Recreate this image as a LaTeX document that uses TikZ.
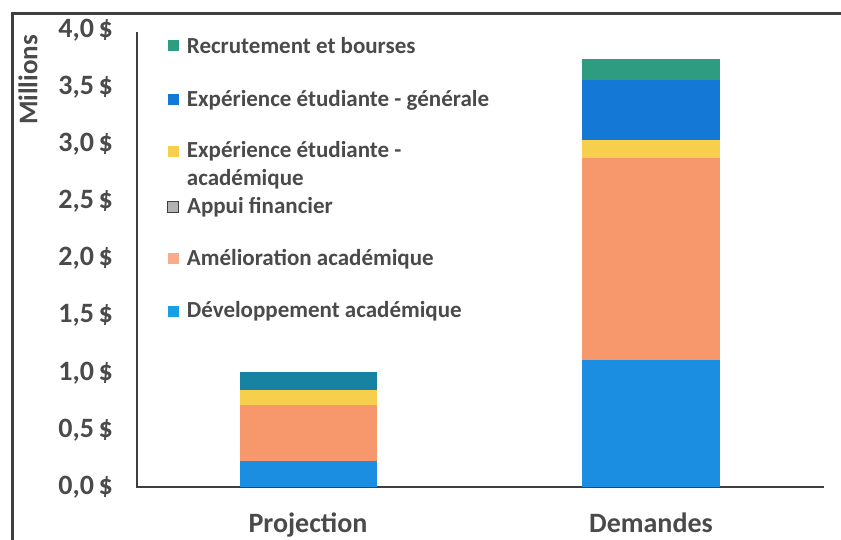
\documentclass[tikz,border=0pt]{standalone}
\usepackage{fontspec}
\setmainfont{Carlito}
\usetikzlibrary{positioning}
\definecolor{framegray}{HTML}{3F3F3F}
\definecolor{txtgray}{HTML}{4A4A4A}
\definecolor{devblue}{HTML}{1C8EE2}
\definecolor{amelorange}{HTML}{F7976C}
\definecolor{acadyellow}{HTML}{F6D04C}
\definecolor{genblue}{HTML}{1479D6}
\definecolor{recgreen}{HTML}{2E9C80}
\definecolor{projteal}{HTML}{1782A2}
\tikzset{tick/.style={anchor=east, inner sep=0pt, text=txtgray, font=\bfseries\fontsize{28}{28}\selectfont},
  cat/.style={inner sep=0pt, text=txtgray, font=\bfseries\fontsize{28}{28}\selectfont},
  key/.style={minimum size=11pt, inner sep=0pt},
  entry/.style={right=8pt of #1, inner sep=0pt, text=txtgray, align=left, font=\bfseries\fontsize{23}{28}\selectfont}}

\begin{document}
\begin{tikzpicture}[x=1pt,y=-1pt]
    \useasboundingbox (0,0) rectangle (841,540);
    % frame and axes
    \draw[framegray, line width=3pt] (12,540) -- (12,14) -- (841,14);
    \draw[framegray, line width=2pt] (137,32) -- (137,487) -- (824,487);
    \node[rotate=90, inner sep=0pt, text=txtgray, font=\bfseries\fontsize{27}{27}\selectfont] (ylab) at (28,80) {Millions};
    \foreach \i/\lab in {0/{0,0},1/{0,5},2/{1,0},3/{1,5},4/{2,0},5/{2,5},6/{3,0},7/{3,5},8/{4,0}}
        \node[tick] (t\i) at (113,487-57.1*\i) {\lab\,\$};
    % stacked bars, values in millions
    \begin{scope}[shift={(0,487)}, y=114.25pt]
        \fill[devblue] (240,0) rectangle (377,0.23);
        \fill[amelorange] (240,0.23) rectangle (377,0.72);
        \fill[acadyellow] (240,0.72) rectangle (377,0.85);
        \fill[projteal] (240,0.85) rectangle (377,1.01);
        \fill[devblue] (582,0) rectangle (720,1.11);
        \fill[amelorange] (582,1.11) rectangle (720,2.88);
        \fill[acadyellow] (582,2.88) rectangle (720,3.04);
        \fill[genblue] (582,3.04) rectangle (720,3.56);
        \fill[recgreen] (582,3.56) rectangle (720,3.75);
    \end{scope}
    \node[cat, anchor=base] (proj) at (308,532) {Projection};
    \node[cat, anchor=base] (dem) at (651,532) {Demandes};
    % legend
    \node[key, fill=recgreen] (k1) at (173,46) {};
    \node[entry=k1] (e1) {Recrutement et bourses};
    \node[key, fill=genblue] (k2) at (173,100) {};
    \node[entry=k2] (e2) {Expérience étudiante - générale};
    \node[key, fill=acadyellow] (k3) at (173,152) {};
    \node[entry=k3, anchor=north west, yshift=11pt] (e3) {Expérience étudiante -\\académique};
    \node[key, fill=gray!60, draw=framegray, thick] (k4) at (173,207) {};
    \node[entry=k4] (e4) {Appui financier};
    \node[key, fill=amelorange!80] (k5) at (173,259) {};
    \node[entry=k5] (e5) {Amélioration académique};
    \node[key, fill=devblue!85!cyan] (k6) at (173,311) {};
    \node[entry=k6] (e6) {Développement académique};
\end{tikzpicture}
\end{document}
